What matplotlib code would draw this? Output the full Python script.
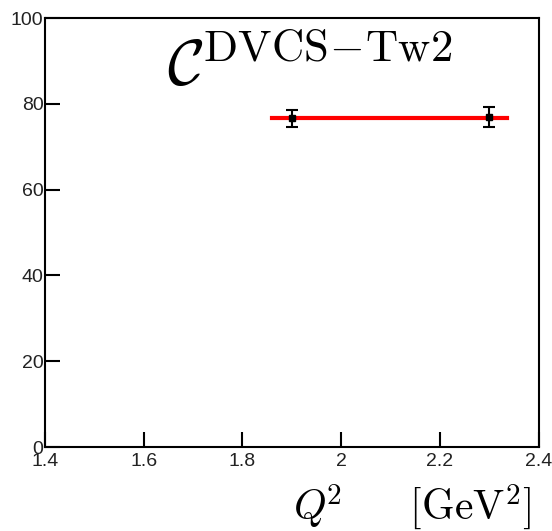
import numpy as np
import matplotlib.pyplot as plt

plt.rcParams['mathtext.fontset'] = 'cm'
plt.rcParams['font.family'] = ['Liberation Sans', 'DejaVu Sans']

# data
q2 = [1.9, 2.3]
c_val = [76.6, 77.0]
c_err = [1.9, 2.3]
fit_range = [1.86, 2.335]
fit_val = 76.7

fig = plt.figure(figsize=(5.52, 5.31), dpi=100)
ax = fig.add_axes([0.0815, 0.158, 0.8945, 0.808])

ax.plot(fit_range, [fit_val, fit_val], color='red', lw=3, zorder=2)
ax.errorbar(q2, c_val, yerr=c_err, fmt='s', color='black', ms=4,
            elinewidth=1.5, capsize=4, capthick=1.5, zorder=3)

ax.set_xlim(1.4, 2.4)
ax.set_ylim(0, 100)
ax.set_xticks([1.4, 1.6, 1.8, 2.0, 2.2, 2.4])
ax.set_xticklabels(["1.4", "1.6", "1.8", "2", "2.2", "2.4"])
ax.set_yticks([0, 20, 40, 60, 80, 100])
ax.tick_params(direction='in', length=11, width=1.5, labelsize=14,
               labelcolor='#222222')
ax.tick_params(axis='x', pad=4)
ax.tick_params(axis='y', pad=1)
for s in ax.spines.values():
    s.set_linewidth(1.5)

ax.text(0.536, 0.955, r"$\mathcal{C}^{\rm DVCS\!-\!Tw2}$", transform=ax.transAxes,
        ha='center', va='top', fontsize=46)
fig.text(0.962, 0.021, r"$Q^{\!2}\hspace{1.8}[{\rm GeV}^2]$", ha='right', va='baseline',
         fontsize=30)

fig.savefig("out.png", dpi=100)
